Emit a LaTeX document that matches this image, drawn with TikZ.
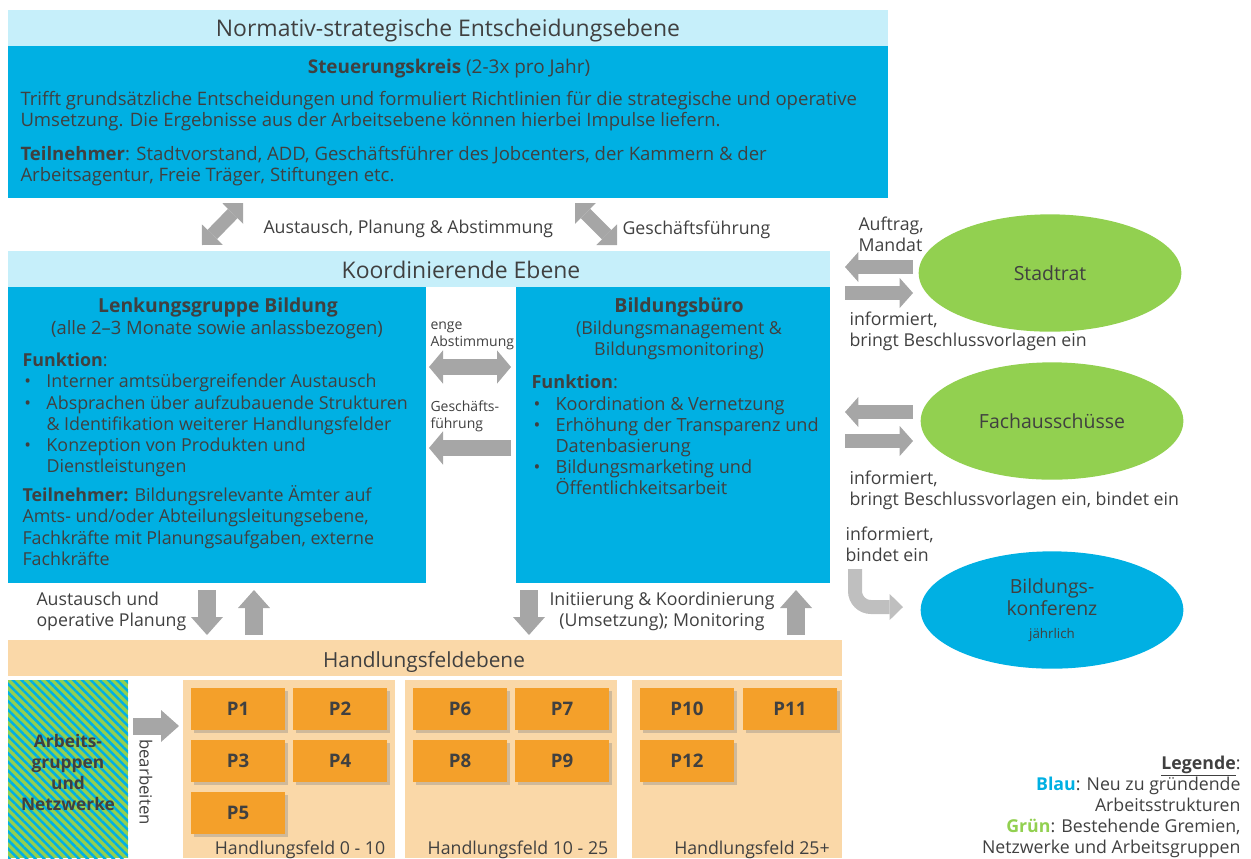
\documentclass[tikz,border=0pt]{standalone}
\usepackage{fontspec}
\setmainfont{Open Sans}
\usetikzlibrary{arrows.meta,shapes.geometric,patterns.meta,shadows}

\definecolor{bandblue}{RGB}{198,239,250}
\definecolor{unitblue}{RGB}{0,176,227}
\definecolor{fieldpeach}{RGB}{250,216,168}
\definecolor{projorange}{RGB}{244,160,42}
\definecolor{arrowgray}{RGB}{166,166,166}
\definecolor{lightgray}{RGB}{191,191,191}
\definecolor{inkgray}{RGB}{64,64,64}
\definecolor{leafgreen}{RGB}{146,208,80}

\newcommand{\bul}{\makebox[18pt][l]{\hspace{1.5pt}\textbullet}}
\newcommand{\bulgap}{\hspace*{18pt}}

\tikzset{every picture/.style={line width=0.75pt}}
\tikzset{
	band/.style={fill=bandblue, minimum height=27pt, inner sep=0pt},
	unit/.style={fill=unitblue, inner sep=0pt},
	field/.style={fill=fieldpeach, inner sep=0pt},
	proj/.style={fill=projorange, minimum width=70.5pt, minimum height=31.5pt, inner sep=0pt, text=inkgray, font=\fontsize{14}{16}\selectfont\bfseries, drop shadow={shadow xshift=2.5pt, shadow yshift=-2.5pt, opacity=0.35}},
	gremium/.style={ellipse, minimum width=197pt, minimum height=88pt, inner sep=0pt, text=inkgray, font=\fontsize{14.6}{17}\selectfont},
	headline/.style={text=inkgray, font=\fontsize{17.2}{19}\selectfont, inner sep=0pt, text height=12.9pt, text depth=4.3pt},
	body/.style={text=inkgray, font=\fontsize{13.4}{15.9}\selectfont, inner sep=0pt, align=left},
	note/.style={text=inkgray, font=\fontsize{13.3}{15.75}\selectfont, inner sep=0pt, align=left},
	oneline/.style={text height=10pt, text depth=3.3pt},
	small/.style={text=inkgray, font=\fontsize{10.5}{12.6}\selectfont, inner sep=0pt, align=left},
	flowarrow/.style={draw=arrowgray, line width=13.5pt, >={Triangle[length=13.5pt,width=24pt,line width=0pt]}},
	sidearrow/.style={draw=arrowgray, line width=11pt, >={Triangle[length=10pt,width=22.5pt,line width=0pt]}},
	twinarrow/.style={draw=arrowgray, line width=12pt, >={Triangle[length=10.5pt,width=25pt,line width=0pt]}},
	slantarrow/.style={draw=arrowgray, line width=10pt, >={Triangle[length=11pt,width=22pt,line width=0pt]}},
	bentarrow/.style={draw=lightgray, line width=10.5pt, rounded corners=12pt, >={Triangle[length=10pt,width=19.5pt,line width=0pt]}}
}

\begin{document}
\begin{tikzpicture}[x=0.75pt,y=0.75pt,yscale=-1,xscale=1]
	\useasboundingbox (0,0) rectangle (1251,858);

	% Normativ-strategische Ebene
	\node[band, minimum width=660pt] (normhead) at (448,28) {};
	\node[headline] (normtitle) at (448,31) {Normativ-strategische Entscheidungsebene};
	\node[unit, minimum width=660pt, minimum height=114pt] (steuer) at (448,122) {};
	\node[body, oneline, font=\fontsize{14.2}{16}\selectfont] (steuertitle) at (449,69) {\textbf{Steuerungskreis} (2-3x pro Jahr)};
	\node[body, anchor=west, font=\fontsize{13.9}{15.75}\selectfont] (steuertext) at (20,111.5) {Trifft grundsätzliche Entscheidungen und formuliert Richtlinien für die strategische und operative\\Umsetzung. Die Ergebnisse aus der Arbeitsebene können hierbei Impulse liefern.};
	\node[body, anchor=west, font=\fontsize{13.9}{15.75}\selectfont] (steuerteil) at (20,166.5) {\textbf{Teilnehmer}: Stadtvorstand, ADD, Geschäftsführer des Jobcenters, der Kammern \& der\\Arbeitsagentur, Freie Träger, Stiftungen etc.};

	% Austausch zwischen den Ebenen
	\coordinate (diaga) at (243,203);
	\coordinate (diagb) at (202,245);
	\coordinate (diagc) at (575,203);
	\coordinate (diagd) at (617,245);
	\draw[slantarrow, <->] (diaga) -- (diagb);
	\draw[slantarrow, <->] (diagc) -- (diagd);
	\node[note, oneline, anchor=west] (austlabel) at (263,229) {Austausch, Planung \& Abstimmung};
	\node[note, oneline, anchor=west] (gflabel) at (622,230) {Geschäftsführung};

	% Koordinierende Ebene
	\node[band, minimum width=616.5pt] (koordhead) at (419,269) {};
	\node[headline] (koordtitle) at (461,273) {Koordinierende Ebene};

	% Lenkungsgruppe
	\node[unit, minimum width=313.5pt, minimum height=222pt] (lenk) at (217,435) {};
	\node[body, oneline, font=\fontsize{14.5}{16}\selectfont\bfseries] (lenktitle) at (218,308) {Lenkungsgruppe Bildung};
	\node[body, oneline, font=\fontsize{13.8}{15}\selectfont] (lenksub) at (217,330) {(alle 2–3 Monate sowie anlassbezogen)};
	\node[body, anchor=west] (lenkfunk) at (22,415) {\textbf{Funktion}:\\
		\bul Interner amtsübergreifender Austausch\\
		\bul Absprachen über aufzubauende Strukturen\\
		\bulgap\& Identifikation weiterer Handlungsfelder\\
		\bul Konzeption von Produkten und\\
		\bulgap Dienstleistungen};
	\node[body, anchor=west] (lenkteil) at (22,525.5) {\textbf{Teilnehmer:} Bildungsrelevante Ämter auf\\Amts- und/oder Abteilungsleitungsebene,\\Fachkräfte mit Planungsaufgaben, externe\\Fachkräfte};

	% zwischen Lenkungsgruppe und Buero
	\node[small, anchor=west] (englabel) at (430,336) {enge\\Abstimmung};
	\coordinate (engl) at (429,367);
	\coordinate (engr) at (511,367);
	\draw[twinarrow, <->] (engl) -- (engr);
	\node[small, anchor=west] (gfmid) at (430,416.5) {Geschäfts-\\führung};
	\coordinate (gfr) at (511,448);
	\coordinate (gfl) at (429,448);
	\draw[twinarrow, ->] (gfr) -- (gfl);

	% Bildungsbuero
	\node[unit, minimum width=235.5pt, minimum height=222pt] (buero) at (673,435) {};
	\node[body, oneline, font=\fontsize{14.6}{16}\selectfont\bfseries] (buerotitle) at (679,308) {Bildungsbüro};
	\node[body, align=center, font=\fontsize{13.4}{15.5}\selectfont] (buerosub) at (679,340.5) {(Bildungsmanagement \&\\Bildungsmonitoring)};
	\node[body, anchor=west, font=\fontsize{13.6}{15.9}\selectfont] (buerofunk) at (531,435) {\textbf{Funktion}:\\
		\bul Koordination \& Vernetzung\\
		\bul Erhöhung der Transparenz und\\
		\bulgap Datenbasierung\\
		\bul Bildungsmarketing und\\
		\bulgap Öffentlichkeitsarbeit};

	% zur Handlungsfeldebene
	\node[note, anchor=west] (austop) at (36,611) {Austausch und\\operative Planung};
	\coordinate (lenkdowna) at (207,590);
	\coordinate (lenkdownb) at (207,635);
	\coordinate (lenkupa) at (254,635);
	\coordinate (lenkupb) at (254,590);
	\draw[flowarrow, ->] (lenkdowna) -- (lenkdownb);
	\draw[flowarrow, ->] (lenkupa) -- (lenkupb);
	\coordinate (buerodowna) at (529,590);
	\coordinate (buerodownb) at (529,635);
	\coordinate (bueroupa) at (796,635);
	\coordinate (bueroupb) at (796,590);
	\draw[flowarrow, ->] (buerodowna) -- (buerodownb);
	\draw[flowarrow, ->] (bueroupa) -- (bueroupb);
	\node[note, align=center] (initlabel) at (662,611) {Initiierung \& Koordinierung\\(Umsetzung); Monitoring};

	% Handlungsfeldebene
	\node[field, minimum width=625.5pt, minimum height=27pt] (hfhead) at (425,658) {};
	\node[headline, font=\fontsize{15.6}{18}\selectfont] (hftitle) at (424,662) {Handlungsfeldebene};
	\node[preaction={fill=leafgreen}, pattern={Lines[angle=-45,distance=4.6pt,line width=1.9pt]}, pattern color=unitblue, inner sep=0pt, minimum width=90pt, minimum height=133.5pt] (arbeits) at (68,769) {};
	\node[body, align=center, font=\fontsize{13}{15.75}\selectfont\bfseries] (arbeitstext) at (68,772.5) {Arbeits-\\gruppen\\und\\Netzwerke};
	\coordinate (bearba) at (133,726);
	\coordinate (bearbb) at (179,726);
	\draw[flowarrow, line width=12.75pt, ->] (bearba) -- (bearbb);
	\node[note, oneline, rotate=-90, font=\fontsize{12.6}{15}\selectfont] (bearbtext) at (144,782) {bearbeiten};

	\node[field, minimum width=159pt, minimum height=133.5pt] (hfa) at (289,769) {};
	\node[field, minimum width=159pt, minimum height=133.5pt] (hfb) at (511,769) {};
	\node[field, minimum width=157.5pt, minimum height=133.5pt] (hfc) at (737,769) {};

	\node[proj] (p1) at (238,709) {P1};
	\node[proj] (p2) at (340,709) {P2};
	\node[proj] (p3) at (238,761) {P3};
	\node[proj] (p4) at (340,761) {P4};
	\node[proj] (p5) at (238,813) {P5};
	\node[proj] (p6) at (460,709) {P6};
	\node[proj] (p7) at (562,709) {P7};
	\node[proj] (p8) at (460,761) {P8};
	\node[proj] (p9) at (562,761) {P9};
	\node[proj] (p10) at (687,709) {P10};
	\node[proj] (p11) at (790,709) {P11};
	\node[proj] (p12) at (687,761) {P12};

	\node[note, oneline] (hfalabel) at (300,850) {Handlungsfeld 0 - 10};
	\node[note, oneline] (hfblabel) at (518,850) {Handlungsfeld 10 - 25};
	\node[note, oneline] (hfclabel) at (752,850) {Handlungsfeld 25+};

	% Gremien rechts
	\node[gremium, fill=leafgreen] (stadtrat) at (1050,273) {Stadtrat};
	\node[gremium, fill=leafgreen] (fach) at (1052,421) {Fachausschüsse};
	\node[gremium, fill=unitblue, align=center] (konferenz) at (1052,610) {Bildungs-\\konferenz\\{\fontsize{10}{11}\selectfont jährlich}};

	\node[note, anchor=west] (auftrag) at (858,234) {Auftrag,\\Mandat};
	\coordinate (stadtina) at (913,267);
	\coordinate (stadtinb) at (845,267);
	\coordinate (stadtouta) at (845,293);
	\coordinate (stadtoutb) at (913,293);
	\draw[sidearrow, ->] (stadtina) -- (stadtinb);
	\draw[sidearrow, ->] (stadtouta) -- (stadtoutb);
	\node[note, anchor=west] (stadtinfo) at (849,331.5) {informiert,\\bringt Beschlussvorlagen ein};

	\coordinate (fachina) at (913,412);
	\coordinate (fachinb) at (845,412);
	\coordinate (fachouta) at (845,441);
	\coordinate (fachoutb) at (913,441);
	\draw[sidearrow, ->] (fachina) -- (fachinb);
	\draw[sidearrow, ->] (fachouta) -- (fachoutb);
	\node[note, anchor=west] (fachinfo) at (849,490.5) {informiert,\\bringt Beschlussvorlagen ein, bindet ein};

	\node[note, anchor=west] (konfinfo) at (845,544) {informiert,\\bindet ein};
	\coordinate (benta) at (855,569);
	\coordinate (bentb) at (903,607);
	\draw[bentarrow, ->] (benta) |- (bentb);

	% Legende
	\node[note, anchor=east, align=right] (legende) at (1241,807) {\underline{\textbf{Legende}}:\\\textbf{\textcolor{unitblue}{Blau}}: Neu zu gründende\\Arbeitsstrukturen\\\textbf{\textcolor{leafgreen}{Grün}}: Bestehende Gremien,\\Netzwerke und Arbeitsgruppen};

\end{tikzpicture}
\end{document}
